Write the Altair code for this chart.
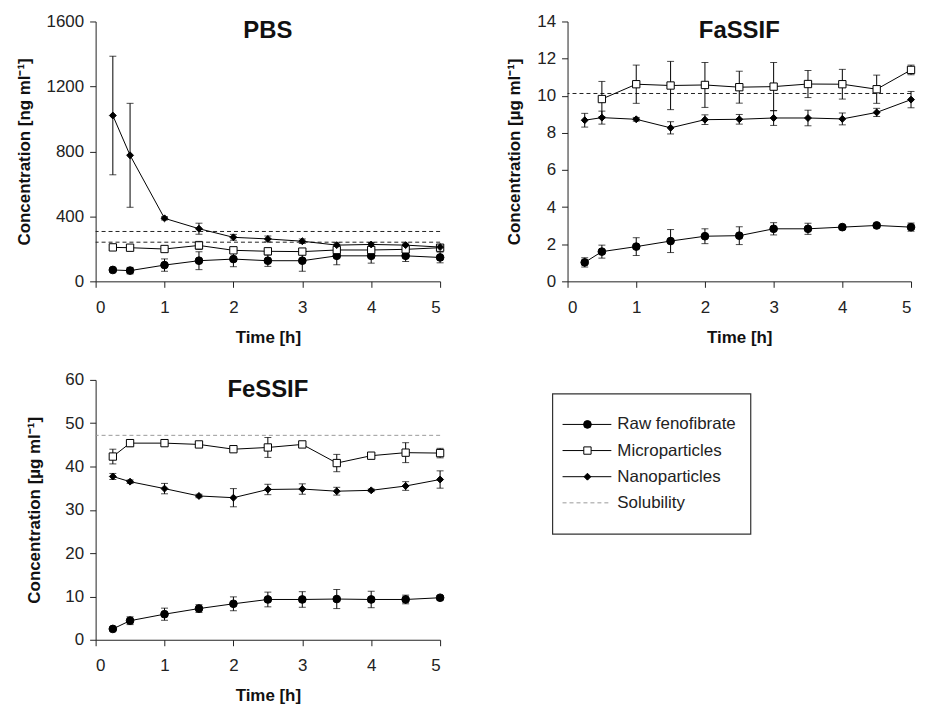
import altair as alt
import pandas as pd

# ---------------- data ----------------
times = [0.25, 0.5, 1, 1.5, 2, 2.5, 3, 3.5, 4, 4.5, 5]
series_names = ["Raw fenofibrate", "Microparticles", "Nanoparticles"]
series_shapes = ["circle", "square", "diamond"]
series_fills = ["black", "white", "black"]
series_sizes = [60, 48, 50]

# PBS (ng/ml)
pbs_raw = [70, 66, 100, 127, 137, 127, 127, 157, 157, 157, 147]
pbs_raw_sd = [8, 20, 38, 55, 47, 35, 65, 55, 45, 35, 33]
pbs_micro = [209, 207, 199, 221, 191, 185, 183, 193, 193, 197, 207]
pbs_micro_sd = [12, 10, 10, 25, 12, 12, 12, 12, 12, 12, 12]
pbs_nano = [1021, 776, 388, 324, 271, 261, 247, 223, 227, 223, 211]
pbs_nano_sd = [365, 320, 10, 34, 18, 18, 14, 14, 12, 12, 10]
pbs_solubility = [307, 241]

# FaSSIF (ug/ml)
fa_raw = [1.02, 1.60, 1.87, 2.17, 2.43, 2.46, 2.83, 2.83, 2.92, 3.01, 2.92]
fa_raw_sd = [0.25, 0.35, 0.48, 0.62, 0.40, 0.48, 0.33, 0.30, 0.08, 0.08, 0.22]
fa_micro = [None, 9.82, 10.62, 10.55, 10.58, 10.46, 10.49, 10.63, 10.62, 10.35, 11.39]
fa_micro_sd = [None, 0.95, 1.03, 1.30, 1.21, 0.86, 1.30, 0.73, 0.80, 0.76, 0.26]
fa_nano = [8.68, 8.82, 8.73, 8.27, 8.71, 8.73, 8.80, 8.80, 8.75, 9.10, 9.79]
fa_nano_sd = [0.37, 0.35, 0.10, 0.33, 0.26, 0.26, 0.40, 0.42, 0.32, 0.22, 0.44]
fa_solubility = [10.12]

# FeSSIF (ug/ml)
fe_raw = [2.5, 4.4, 5.9, 7.2, 8.3, 9.3, 9.3, 9.4, 9.3, 9.3, 9.7]
fe_raw_sd = [0.3, 0.9, 1.4, 0.9, 1.6, 1.7, 1.8, 2.2, 1.9, 1.0, 0.5]
fe_micro = [42.3, 45.4, 45.4, 45.1, 44.0, 44.4, 45.1, 40.8, 42.5, 43.2, 43.1]
fe_micro_sd = [1.7, 0.8, 0.4, 0.5, 0.5, 2.3, 0.4, 2.0, 0.5, 2.3, 1.1]
fe_nano = [37.7, 36.5, 34.9, 33.2, 32.8, 34.7, 34.8, 34.3, 34.5, 35.5, 37.0]
fe_nano_sd = [0.7, 0.4, 1.2, 0.4, 2.1, 1.2, 1.2, 0.9, 0.3, 1.0, 2.0]
fe_solubility = [47.2]

legend_labels = series_names + ["Solubility"]

FONT = "Liberation Sans"
H = 261


def panel_df(means, sds):
    rows = []
    for name, m, s in zip(series_names, means, sds):
        for t, mv, sv in zip(times, m, s):
            if mv is None:
                continue
            rows.append(dict(t=t, series=name, mean=mv, lo=mv - sv, hi=mv + sv))
    return pd.DataFrame(rows)


shape_enc = alt.Shape("series:N", scale=alt.Scale(domain=series_names, range=series_shapes), legend=None)
fill_enc = alt.Fill("series:N", scale=alt.Scale(domain=series_names, range=series_fills), legend=None)
size_enc = alt.Size("series:N", scale=alt.Scale(domain=series_names, range=series_sizes), legend=None)


def panel(title, means, sds, sol, sol_color, ymax, ystep, ytitle, width, ytpad):
    df = panel_df(means, sds)
    xs = alt.X("t:Q", scale=alt.Scale(domain=[0, 5], nice=False),
               axis=alt.Axis(values=[0, 1, 2, 3, 4, 5], title="Time [h]", format="d"))
    ysc = alt.Scale(domain=[0, ymax], nice=False)
    yax = alt.Axis(values=list(range(0, ymax + 1, ystep)), title=ytitle, format="d",
                   titlePadding=ytpad)
    base = alt.Chart(df)
    rules = alt.Chart(pd.DataFrame({"v": sol})).mark_rule(
        strokeDash=[4, 3], color=sol_color, strokeWidth=1
    ).encode(y=alt.Y("v:Q", scale=ysc, axis=yax, title=ytitle))
    lines = base.mark_line(color="black", strokeWidth=1).encode(
        x=xs, y=alt.Y("mean:Q", scale=ysc, axis=yax, title=ytitle), detail="series:N")
    err = base.mark_errorbar(ticks=True, size=7, thickness=1, color="black").encode(
        x=xs, y=alt.Y("lo:Q", scale=ysc, axis=yax, title=ytitle), y2="hi:Q")
    pts = base.mark_point(filled=True, stroke="black", strokeWidth=1, opacity=1).encode(
        x=xs, y=alt.Y("mean:Q", scale=ysc, axis=yax, title=ytitle),
        shape=shape_enc, fill=fill_enc, size=size_enc)
    return alt.layer(rules, lines, err, pts).properties(
        width=width, height=H,
        title=alt.TitleParams(title, fontSize=24, fontWeight="bold", font=FONT,
                              color="#111", offset=-31, frame="group", anchor="middle"))


pbs = panel("PBS", [pbs_raw, pbs_micro, pbs_nano], [pbs_raw_sd, pbs_micro_sd, pbs_nano_sd],
            pbs_solubility, "#222", 1600, 400, "Concentration [ng ml⁻¹]", 346, 13)
fassif = panel("FaSSIF", [fa_raw, fa_micro, fa_nano], [fa_raw_sd, fa_micro_sd, fa_nano_sd],
               fa_solubility, "#222", 14, 2, "Concentration [µg ml⁻¹]", 345, 13)
fessif = panel("FeSSIF", [fe_raw, fe_micro, fe_nano], [fe_raw_sd, fe_micro_sd, fe_nano_sd],
               fe_solubility, "#999", 60, 10, "Concentration [µg ml⁻¹]", 346, 21)

# ---------------- legend panel ----------------
leg_df = pd.DataFrame({"label": legend_labels,
                       "series": series_names + ["Solubility"],
                       "kind": ["s", "s", "s", "sol"]})
BT = 14  # box top inside the legend panel
leg_y = alt.Y("label:N", sort=legend_labels, axis=None,
              scale=alt.Scale(domain=legend_labels, range=[BT + 17.6, BT + 122.6], padding=0))
leg_base = alt.Chart(leg_df)
box = alt.Chart(pd.DataFrame({"a": [0]})).mark_rect(
    fillOpacity=0, stroke="#333", strokeWidth=1.2
).encode(x=alt.value(0), x2=alt.value(199), y=alt.value(BT), y2=alt.value(BT + 141))
leg_lines = leg_base.transform_filter("datum.kind == 's'").mark_rule(
    color="black", strokeWidth=1).encode(x=alt.value(10), x2=alt.value(59), y=leg_y)
leg_sol = leg_base.transform_filter("datum.kind == 'sol'").mark_rule(
    color="#999", strokeWidth=1, strokeDash=[4, 3]).encode(x=alt.value(10), x2=alt.value(59), y=leg_y)
leg_pts = leg_base.transform_filter("datum.kind == 's'").mark_point(
    filled=True, stroke="black", strokeWidth=1, opacity=1).encode(
    x=alt.value(35), y=leg_y, shape=shape_enc, fill=fill_enc, size=size_enc)
leg_text = leg_base.mark_text(align="left", baseline="middle", fontSize=17, font=FONT,
                              color="#222").encode(x=alt.value(65), y=leg_y, text="label:N")
legend = alt.layer(box, leg_lines, leg_sol, leg_pts, leg_text).properties(width=200, height=H)

top = alt.hconcat(pbs, fassif, spacing=60).resolve_scale(y="independent")
bottom = alt.hconcat(fessif, legend, spacing=106).resolve_scale(y="independent")

chart = alt.vconcat(top, bottom, spacing=26).resolve_scale(y="independent").configure_view(
    stroke=None
).configure_axis(
    labelFont=FONT, titleFont=FONT, labelFontSize=17, titleFontSize=17,
    titleFontWeight="bold", labelColor="#222", titleColor="#111",
    domainColor="#222", tickColor="#222", tickSize=6, grid=False,
    labelPadding=6
).configure_axisX(labelPadding=12, titlePadding=14).properties(
    padding={"left": 7, "top": 3, "right": 0, "bottom": 0})

chart.save("out.html", embed_options={"renderer": "svg", "actions": False})
